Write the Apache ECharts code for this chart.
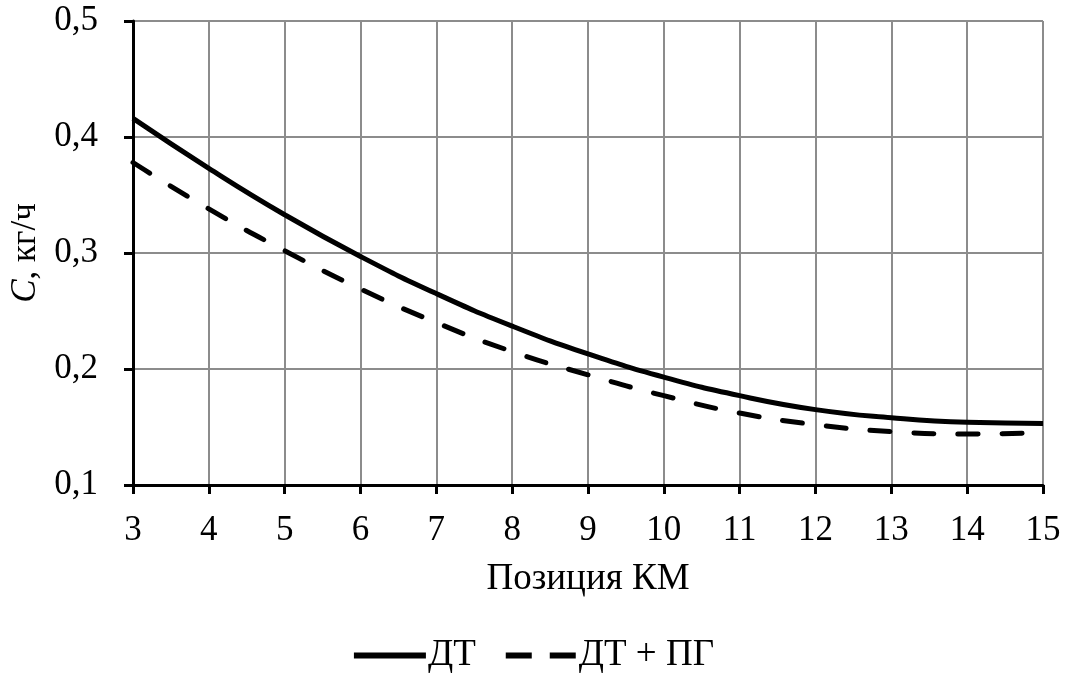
<!DOCTYPE html>
<html>
<head>
<meta charset="utf-8">
<script src="https://cdn.jsdelivr.net/npm/echarts@6/dist/echarts.min.js"></script>
<style>
  html, body { margin: 0; padding: 0; background: #fff; }
  #chart { width: 1068px; height: 684px; }
</style>
</head>
<body>
<div id="chart"></div>
<script>
// Позиция КМ
const positions = [3, 4, 5, 6, 7, 8, 9, 10, 11, 12, 13, 14, 15];
// Расход C, кг/ч — дизельное топливо
const dtValues = [0.416, 0.373, 0.333, 0.297, 0.265, 0.237, 0.213, 0.193, 0.177, 0.165, 0.158, 0.154, 0.153];
// Расход C, кг/ч — дизельное топливо + природный газ
const dtPgValues = [0.378, 0.338, 0.302, 0.269, 0.240, 0.215, 0.195, 0.177, 0.162, 0.152, 0.146, 0.144, 0.145];
const seriesNames = ['ДТ', 'ДТ + ПГ'];

const FONT = '"Liberation Serif", "Times New Roman", serif';
const pair = (xs, ys) => xs.map((x, i) => [x, ys[i]]);
const comma = v => v.toFixed(1).replace('.', ',');

// legend glyphs: a solid bar and two dashes
const SOLID_ICON = 'path://M0,0H72V6H0Z';
const DASH_ICON = 'path://M0,0H26V6H0Z M44,0H70V6H44Z';

const chart = echarts.init(document.getElementById('chart'));
chart.setOption({
  backgroundColor: '#fff',
  animation: false,
  grid: { left: 133, right: 25, top: 21, bottom: 199, outerBoundsMode: 'none', containLabel: false },
  legend: {
    bottom: 5,
    left: 'center',
    itemWidth: 72,
    itemHeight: 6,
    itemGap: 30,
    textStyle: { fontFamily: FONT, fontSize: 37, color: '#000', padding: [0, 0, 0, -3] },
    data: [
      { name: seriesNames[0], icon: SOLID_ICON },
      { name: seriesNames[1], icon: DASH_ICON }
    ]
  },
  xAxis: {
    type: 'value',
    min: 3, max: 15, interval: 1,
    name: 'Позиция КМ',
    nameLocation: 'middle',
    nameGap: 76,
    nameTextStyle: { fontFamily: FONT, fontSize: 37, color: '#000' },
    axisLine: { onZero: false, lineStyle: { color: '#000', width: 3 } },
    axisTick: { show: true, length: 9, lineStyle: { color: '#000', width: 3 } },
    axisLabel: { fontFamily: FONT, fontSize: 35, color: '#000', margin: 28 },
    splitLine: { show: true, lineStyle: { color: '#8c8c8c', width: 2 } }
  },
  yAxis: {
    type: 'value',
    min: 0.1, max: 0.5, interval: 0.1,
    name: '{i|C}, кг/ч',
    nameLocation: 'middle',
    nameGap: 86,
    nameRotate: 90,
    nameTextStyle: {
      fontFamily: FONT, fontSize: 35, color: '#000',
      rich: { i: { fontFamily: FONT, fontSize: 35, fontStyle: 'italic', color: '#000' } }
    },
    axisLine: { onZero: false, lineStyle: { color: '#000', width: 3 } },
    axisTick: { show: true, length: 9, lineStyle: { color: '#000', width: 3 } },
    axisLabel: { fontFamily: FONT, fontSize: 35, color: '#000', margin: 35, formatter: comma },
    splitLine: { show: true, lineStyle: { color: '#8c8c8c', width: 2 } }
  },
  series: [
    {
      name: seriesNames[0],
      type: 'line',
      smooth: true,
      symbol: 'none',
      data: pair(positions, dtValues),
      lineStyle: { color: '#000', width: 5 },
      itemStyle: { color: '#000' }
    },
    {
      name: seriesNames[1],
      type: 'line',
      smooth: true,
      symbol: 'none',
      data: pair(positions, dtPgValues),
      lineStyle: { color: '#000', width: 5, type: [20, 24], cap: 'round' },
      itemStyle: { color: '#000' }
    }
  ]
});
</script>
</body>
</html>
